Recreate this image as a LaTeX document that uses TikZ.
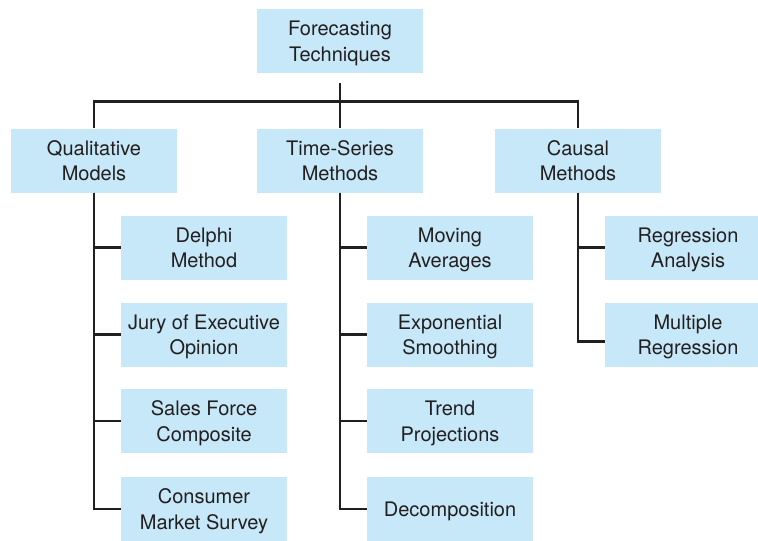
\documentclass[tikz,border=0pt]{standalone}
\usepackage{fontspec}
\setmainfont{TeX Gyre Heros}
\definecolor{boxblue}{HTML}{C7E8F8}
\definecolor{inkgray}{HTML}{231F20}
\begin{document}
\begin{tikzpicture}[x=1pt,y=-1pt,
    tbox/.style={fill=boxblue,text=inkgray,minimum width=166pt,minimum height=64pt,
      inner sep=0pt,align=center,text depth=0pt,font=\fontsize{20}{25.5}\selectfont},
    link/.style={draw=inkgray,line width=2.6pt}]
    \useasboundingbox (0,0) rectangle (758,541);
    % top and first level
    \node[tbox] (fore) at (340,41) {Forecasting\\Techniques};
    \node[tbox] (qual) at (94,160.5) {Qualitative\\Models};
    \node[tbox] (tser) at (340,160.5) {Time-Series\\Methods};
    \node[tbox] (caus) at (578,160.5) {Causal\\Methods};
    % qualitative models
    \node[tbox] (delphi) at (204,247.5) {Delphi\\Method};
    \node[tbox] (jury) at (204,334.5) {Jury of Executive\\Opinion};
    \node[tbox] (sales) at (204,421) {Sales Force\\Composite};
    \node[tbox] (cons) at (204,509) {Consumer\\Market Survey};
    % time-series methods
    \node[tbox] (movavg) at (450,247.5) {Moving\\Averages};
    \node[tbox] (expsm) at (450,334.5) {Exponential\\Smoothing};
    \node[tbox] (trend) at (450,421) {Trend\\Projections};
    \node[tbox] (decomp) at (450,509) {Decomposition};
    % causal methods
    \node[tbox] (regan) at (688,247.5) {Regression\\Analysis};
    \node[tbox] (multreg) at (688,334.5) {Multiple\\Regression};
    % connectors
    \draw[link] ([yshift=-10pt]fore.south) -- (tser.north);
    \draw[link] (qual.north) -- ++(0,-27) -| (caus.north);
    \draw[link] (qual.south) |- (cons.west);
    \draw[link] (qual.south) |- (delphi.west);
    \draw[link] (qual.south) |- (jury.west);
    \draw[link] (qual.south) |- (sales.west);
    \draw[link] (tser.south) |- (decomp.west);
    \draw[link] (tser.south) |- (movavg.west);
    \draw[link] (tser.south) |- (expsm.west);
    \draw[link] (tser.south) |- (trend.west);
    \draw[link] (caus.south) |- ([yshift=-7pt]multreg.west);
    \draw[link] (caus.south) |- (regan.west);
\end{tikzpicture}
\end{document}
